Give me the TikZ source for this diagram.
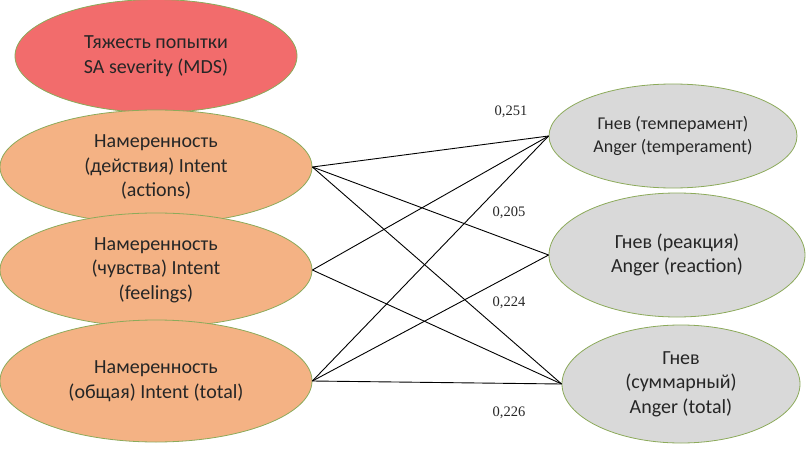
\documentclass[tikz,border=0pt]{standalone}
\usepackage{fontspec}
\setmainfont{Carlito}
\newfontfamily\numfont{Liberation Serif}
\usetikzlibrary{shapes.geometric}
\definecolor{sared}{RGB}{242,108,108}
\definecolor{intorange}{RGB}{244,178,132}
\definecolor{angergray}{RGB}{217,217,217}
\definecolor{rimgreen}{RGB}{140,170,90}
\tikzset{
  oval/.style={ellipse, draw=rimgreen, line width=0.8pt, inner sep=0pt, align=center,
    font=\fontsize{20}{24.5}\selectfont, text=black!85},
  smalloval/.style={oval, font=\fontsize{18}{23}\selectfont},
  link/.style={draw=black, line width=0.9pt},
  coef/.style={font=\numfont\fontsize{14.5}{16}\selectfont, text=black!85}
}
\begin{document}
\begin{tikzpicture}[x=1pt,y=-1pt]
\useasboundingbox (0,0) rectangle (806,452);
\node[oval, fill=sared, minimum width=282pt, minimum height=113pt] (sev) at (156,56) {Тяжесть попытки\\SA severity (MDS)};
\node[oval, fill=intorange, minimum width=312pt, minimum height=114pt] (ia) at (156,167) {Намеренность\\(действия) Intent\\(actions)};
\node[oval, fill=intorange, minimum width=312pt, minimum height=114pt] (ifl) at (156,270) {Намеренность\\(чувства) Intent\\(feelings)};
\node[oval, fill=intorange, minimum width=312pt, minimum height=122pt] (it) at (156,381) {Намеренность\\(общая) Intent (total)};
\node[smalloval, fill=angergray, minimum width=248pt, minimum height=104pt] (at) at (673,136) {Гнев (темперамент)\\Anger (temperament)};
\node[oval, fill=angergray, minimum width=256pt, minimum height=124pt] (ar) at (677,255) {Гнев (реакция)\\Anger (reaction)};
\node[oval, fill=angergray, minimum width=238pt, minimum height=118pt] (ato) at (681,384) {Гнев\\(суммарный)\\Anger (total)};
\draw[link] (ia.east) -- (at.west);
\draw[link] (ia.east) -- (ar.west);
\draw[link] (ia.east) -- (ato.west);
\draw[link] (ifl.east) -- (at.west);
\draw[link] (ifl.east) -- (ato.west);
\draw[link] (it.east) -- (at.west);
\draw[link] (it.east) -- (ar.west);
\draw[link] (it.east) -- (ato.west);
\node[coef] (c1) at (511,112) {0,251};
\node[coef] (c2) at (509,213) {0,205};
\node[coef] (c3) at (509,303) {0,224};
\node[coef] (c4) at (509,413) {0,226};
\end{tikzpicture}
\end{document}
